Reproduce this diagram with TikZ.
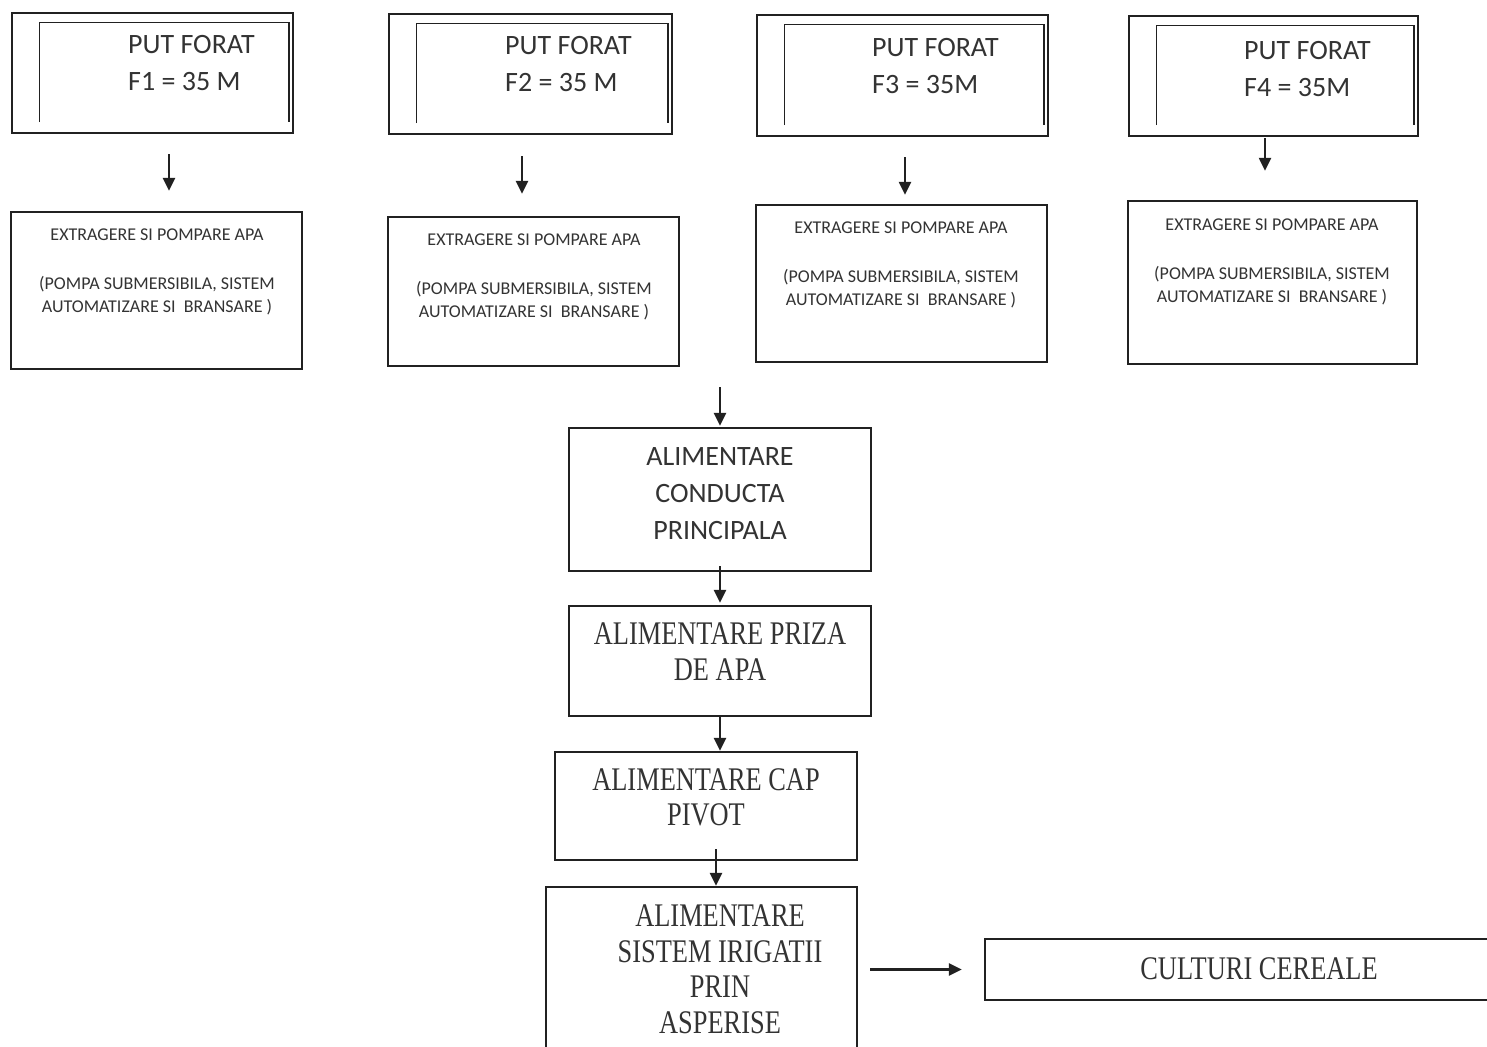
\documentclass[tikz,border=0pt]{standalone}
\usepackage{fontspec}
\setmainfont{Carlito}
\newfontfamily\slimserif[FakeStretch=0.8]{Liberation Serif}
\usetikzlibrary{arrows.meta}
\definecolor{ink}{gray}{0.13}
\definecolor{txt}{gray}{0.2}
\newcommand{\innerframe}[1]{\draw[frame] ([xshift=28.5pt,yshift=12pt]#1.south west) |- ([xshift=-5pt,yshift=-10.5pt]#1.north east) -- ([xshift=-5pt,yshift=12pt]#1.south east)}
\tikzset{
  box/.style={draw=ink, line width=2.3pt, inner sep=0pt},
  frame/.style={draw=ink, line width=1.6pt},
  welltxt/.style={anchor=north west, inner sep=0pt, align=left, text=txt, font=\fontsize{28}{37}\selectfont},
  pumptxt/.style={anchor=north, inner sep=0pt, align=center, text=txt, font=\fontsize{18}{23}\selectfont},
  mainsans/.style={anchor=north, inner sep=0pt, align=center, text=txt, font=\fontsize{28}{37}\selectfont},
  mainserif/.style={anchor=north, inner sep=0pt, align=center, text=txt, font=\slimserif\fontsize{33}{35.5}\selectfont},
  flow/.style={draw=ink, line width=2.3pt, -{Triangle[width=12pt,length=13pt]}}
}
\begin{document}
\begin{tikzpicture}[x=1pt,y=-1pt]
    \fill[white] (0,0) rectangle (1487,1046);
    \useasboundingbox (0,0) rectangle (1487,1046);
    \clip (0,0) rectangle (1487,1046);

    % wells
    \node[box, minimum width=281, minimum height=120] (f1) at (152.5,73) {};
    \node[box, minimum width=283, minimum height=120] (f2) at (530.5,74) {};
    \node[box, minimum width=291, minimum height=121] (f3) at (902.5,75.5) {};
    \node[box, minimum width=289, minimum height=120] (f4) at (1273.5,76) {};
    \innerframe{f1};
    \innerframe{f2};
    \innerframe{f3};
    \innerframe{f4};
    \node[welltxt] (f1t) at (128,35) {PUT FORAT\\F1 = 35 M};
    \node[welltxt] (f2t) at (505,36) {PUT FORAT\\F2 = 35 M};
    \node[welltxt] (f3t) at (872,38) {PUT FORAT\\F3 = 35M};
    \node[welltxt] (f4t) at (1244,41) {PUT FORAT\\F4 = 35M};

    % pumps
    \node[box, minimum width=291, minimum height=157] (e1) at (156.5,290.5) {};
    \node[box, minimum width=291, minimum height=149] (e2) at (533.5,291.5) {};
    \node[box, minimum width=291, minimum height=157] (e3) at (901.5,283.5) {};
    \node[box, minimum width=289, minimum height=163] (e4) at (1272.5,282.5) {};
    \node[pumptxt] (e1t) at (157,228.5) {EXTRAGERE SI POMPARE APA\\[26pt] (POMPA SUBMERSIBILA, SISTEM\\AUTOMATIZARE SI~~BRANSARE )};
    \node[pumptxt] (e2t) at (534,233.5) {EXTRAGERE SI POMPARE APA\\[26pt] (POMPA SUBMERSIBILA, SISTEM\\AUTOMATIZARE SI~~BRANSARE )};
    \node[pumptxt] (e3t) at (901,221.5) {EXTRAGERE SI POMPARE APA\\[26pt] (POMPA SUBMERSIBILA, SISTEM\\AUTOMATIZARE SI~~BRANSARE )};
    \node[pumptxt] (e4t) at (1272,218.5) {EXTRAGERE SI POMPARE APA\\[26pt] (POMPA SUBMERSIBILA, SISTEM\\AUTOMATIZARE SI~~BRANSARE )};

    \draw[flow, shorten <=20pt, shorten >=20pt] ([xshift=16.5pt]f1.south) -- ([xshift=16.5pt]f1.south |- e1.north);
    \draw[flow, shorten <=21pt, shorten >=22pt] ([xshift=-8.5pt]f2.south) -- ([xshift=-8.5pt]f2.south |- e2.north);
    \draw[flow, shorten <=20pt, shorten >=9pt] ([xshift=2.5pt]f3.south) -- ([xshift=2.5pt]f3.south |- e3.north);
    \draw[flow, shorten <=1pt, shorten >=29pt] ([xshift=-8.5pt]f4.south) -- ([xshift=-8.5pt]f4.south |- e4.north);

    % main line
    \coordinate (merge) at (720,387);
    \node[box, minimum width=302, minimum height=143] (cond) at (720,499.5) {};
    \node[box, minimum width=302, minimum height=110] (priza) at (720,661) {};
    \node[box, minimum width=302, minimum height=108] (pivot) at (706,806) {};
    \node[box, minimum width=311, minimum height=173] (irig) at (701.5,973.5) {};
    \node[box, minimum width=515, minimum height=61] (cult) at (1242.5,969.5) {};
    \node[mainsans] (condt) at (720,447) {ALIMENTARE\\CONDUCTA\\PRINCIPALA};
    \node[mainserif] (prizat) at (720,623) {ALIMENTARE PRIZA\\DE APA};
    \node[mainserif] (pivott) at (706,768) {ALIMENTARE CAP\\PIVOT};
    \node[mainserif] (irigt) at (720,905) {ALIMENTARE\\SISTEM IRIGATII\\PRIN\\ASPERISE};
    \node[mainserif] (cultt) at (1259,957) {CULTURI CEREALE};

    \draw[flow, shorten >=1pt] (merge) -- (cond.north);
    \draw[flow, shorten <=-6pt, shorten >=2pt] (cond.south) -- (priza.north);
    \draw[flow] (priza.south) -- (priza.south |- pivot.north);
    \draw[flow, shorten <=-12pt] ([xshift=10pt]pivot.south) -- ([xshift=10pt]pivot.south |- irig.north);
    \draw[flow, shorten <=12pt, shorten >=22pt] (irig.east |- cult.west) -- (cult.west);
\end{tikzpicture}
\end{document}
